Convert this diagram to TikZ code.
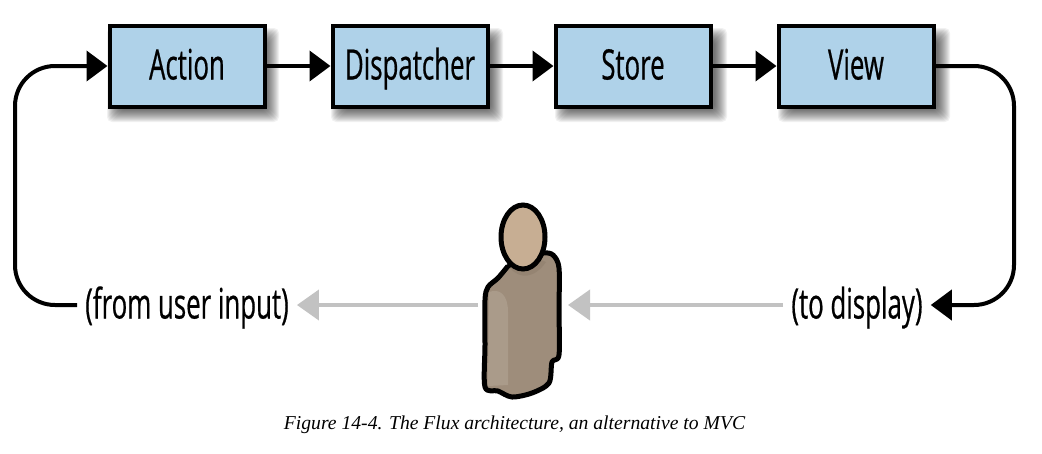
\documentclass[tikz,border=0pt]{standalone}
\usepackage{fontspec}
\usetikzlibrary{positioning, arrows.meta}
\newfontfamily\boxfont[FakeStretch=0.615, FakeBold=0.5]{Open Sans}
\setmainfont{Liberation Serif}

\definecolor{boxblue}{HTML}{AFD2E9}
\definecolor{headtan}{HTML}{C7AE93}
\definecolor{bodytan}{HTML}{9E8D7B}
\definecolor{sidetan}{HTML}{AA9B8A}
\definecolor{collartan}{HTML}{8F7F6D}
\definecolor{graysoft}{HTML}{C2C2C2}

\tikzset{
    stagebox/.style={draw=black, fill=boxblue, line width=4pt, minimum width=155pt, minimum height=81pt,
        inner sep=0pt, font=\boxfont\fontsize{42}{42}\selectfont, text height=30pt, text depth=3pt},
    sidelabel/.style={inner sep=0pt, inner xsep=8pt, font=\boxfont\fontsize{42}{42}\selectfont, text height=30pt, text depth=3pt},
    flowline/.style={draw=black, line width=4pt, -{Triangle[length=21pt, width=30pt]}},
    softline/.style={draw=graysoft, line width=4pt, -{Triangle[length=22pt, width=30pt]}},
}

\begin{document}
\begin{tikzpicture}[x=1pt, y=-1pt]

    % Page
    \useasboundingbox (0, 0) rectangle (1042, 453);
    \fill[white] (0, 0) rectangle (1042, 453);

    % Shadows under the boxes
    \foreach \xs in {107, 331, 555, 778}{
        \foreach \b in {0,..., 12}{
            \fill[black, opacity=0.055, rounded corners=5pt]
                (\xs+12-\b, 40-\b) rectangle (\xs+160+\b, 110+\b);
        }
    }

    % Boxes
    \node[stagebox] (action) at (187, 66) {Action};
    \node[stagebox, right=64pt of action] (dispatcher) {Dispatcher};
    \node[stagebox, right=64pt of dispatcher] (store) {Store};
    \node[stagebox, right=64pt of store] (view) {View};

    % Labels
    \node[sidelabel] (input) at (187, 305) {(from user input)};
    \node[sidelabel] (display) at (857, 305) {(to display)};

    % Arrows, top row
    \draw[flowline] (action) -- (dispatcher);
    \draw[flowline] (dispatcher) -- (store);
    \draw[flowline] (store) -- (view);

    % Arrows, return paths
    \coordinate (leftbend) at (15, 66);
    \coordinate (rightbend) at (1014, 305);
    \draw[flowline, rounded corners=40pt] (input.west) -| (leftbend) -- (action.west);
    \draw[flowline, rounded corners=40pt] (view.east) -| (rightbend) -- (display.east);

    % Arrows, gray
    \coordinate (personleft) at (478, 305);
    \coordinate (personright) at (568, 305);
    \draw[softline] (display.west) -- (personright);
    \draw[softline] (personleft) -- (input.east);

    % Person
    \draw[draw=black, fill=bodytan, line width=5pt, line join=round]
        plot[smooth, tension=0.5] coordinates {(508, 266) (498, 278) (488, 287) (485, 300) (485, 345) (485, 387)
            (498, 391) (512, 397) (532, 393) (549, 383) (552, 362) (559, 355) (559, 310) (559, 268) (553, 255)
            (543, 253) (525, 258) (508, 266)};
    \fill[sidetan] (489, 292) .. controls (500, 288) and (508, 295) .. (508, 312) -- (508, 385) -- (488, 386) -- cycle;
    \fill[collartan, opacity=0.6] (510, 268) .. controls (520, 280) and (535, 278) .. (546, 262)
        .. controls (535, 256) and (520, 260) .. (510, 268) -- cycle;
    \draw[draw=black, fill=headtan, line width=5pt] (523, 237) ellipse (22pt and 32pt);

    % Caption
    \node[font=\itshape\fontsize{19.65}{21}\selectfont, inner sep=0pt] (caption) at (514.5, 424.5) {Figure 14-4. The Flux architecture, an alternative to MVC};

\end{tikzpicture}
\end{document}
